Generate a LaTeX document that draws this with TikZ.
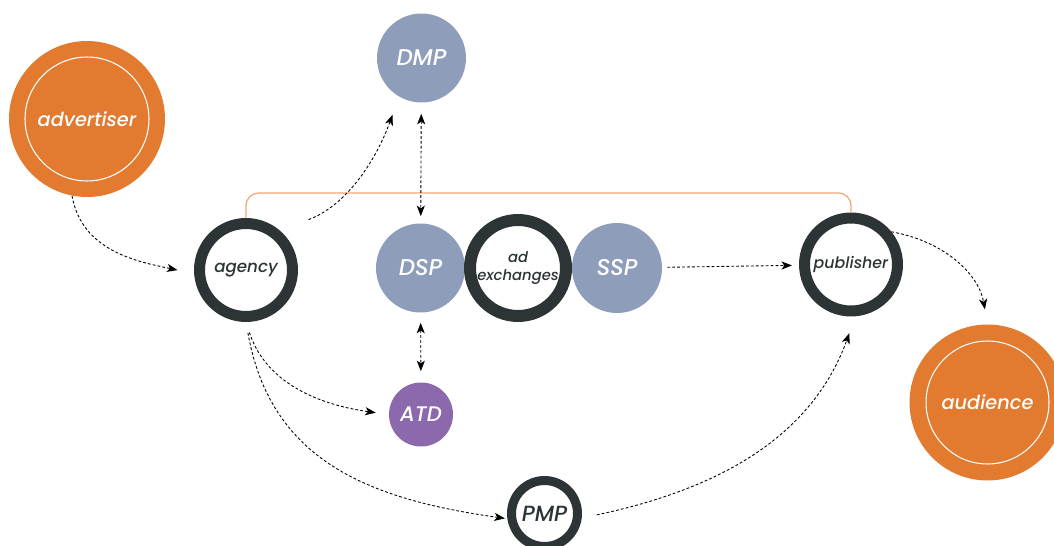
\documentclass[tikz,border=0pt]{standalone}
\usepackage{fontspec}
\setmainfont{Poppins}[ItalicFont={Poppins Medium Italic}]
\usetikzlibrary{arrows.meta}
\definecolor{adorange}{HTML}{E27A2F}
\definecolor{adline}{HTML}{F2A577}
\definecolor{adgray}{HTML}{8D9DBA}
\definecolor{addark}{HTML}{2D3436}
\definecolor{adpurple}{HTML}{8C68AD}
\tikzset{
  party/.style={circle,fill=adorange,text=white,minimum size=3.12cm,inner sep=0pt,
    font=\itshape\fontsize{11}{13}\selectfont},
  tech/.style={circle,fill=adgray,text=white,minimum size=1.78cm,inner sep=0pt,
    font=\itshape\fontsize{13}{15}\selectfont},
  hub/.style={circle,draw=addark,fill=white,text=addark,line width=0.22cm,
    minimum size=1.86cm,inner sep=0pt,font=\itshape\fontsize{9.5}{11}\selectfont},
  flow/.style={line width=0.5pt,dash pattern=on 1.6pt off 1.2pt,
    -{Stealth[length=6pt,width=4.6pt,inset=1.6pt]}},
  twoway/.style={flow,{Stealth[length=6pt,width=4.6pt,inset=1.6pt]}-{Stealth[length=6pt,width=4.6pt,inset=1.6pt]}}
}
\begin{document}
\begin{tikzpicture}[x=0.02cm,y=0.02cm]
\useasboundingbox (0,0) rectangle (1054,545);

\node[party] (adv) at (87,426) {advertiser};
\draw[white,line width=0.6pt] (adv) circle (1.24cm);
\node[party] (aud) at (987.5,142.5) {audience};
\draw[white,line width=0.6pt] (aud) circle (1.23cm);

\node[tech] (dmp) at (421.5,487) {DMP};
\node[tech] (dsp) at (420.5,277) {DSP};
\node[tech,minimum size=1.8cm] (ssp) at (617,277) {SSP};
\node[tech,fill=adpurple,minimum size=1.28cm,font=\itshape\fontsize{12}{14}\selectfont] (atd) at (421,130.5) {ATD};

\node[hub] (agency) at (246,275) {agency};
\node[hub,line width=0.24cm,minimum size=1.92cm,font=\itshape\fontsize{8.4}{9}\selectfont,
  align=center] (adx) at (518,277) {ad\\[1.5pt]exchanges};
\node[hub,font=\itshape\fontsize{9}{11}\selectfont] (pub) at (851,280.5) {publisher};
\node[hub,line width=0.18cm,minimum size=1.32cm,font=\itshape\fontsize{12.5}{14}\selectfont] (pmp) at (544.5,31.5) {PMP};

\draw[adline,line width=0.7pt,rounded corners=0.25cm] (agency.north) -- ++(0,25) -| (pub.north);

\draw[flow,shorten >=0.34cm] (adv.259) to[out=-80,in=168] (agency.184);
\draw[flow,shorten <=0.62cm,shorten >=0.38cm] (agency.50) to[out=20,in=-110] (dmp.240);
\draw[twoway,shorten <=0.22cm,shorten >=0.14cm] (dmp) -- (dsp);
\draw[twoway,shorten <=0.2cm,shorten >=0.22cm] (dsp) -- (atd);
\draw[flow,shorten <=0.22cm,shorten >=0.26cm] (agency.south) to[out=-72,in=172] (atd.west);
\draw[flow,shorten <=0.22cm,shorten >=0.05cm] (agency.south) to[out=-80,in=172,looseness=1.1] (pmp.188);
\draw[flow,shorten <=0.1cm,shorten >=0.14cm] (ssp) -- (pub);
\draw[flow,shorten <=0.31cm,shorten >=0.36cm] (pmp.-7) to[out=12,in=-110] (pub.-85);
\draw[flow,shorten >=0.3cm] (pub.39) to[out=-10,in=100] (aud.north);
\end{tikzpicture}
\end{document}
